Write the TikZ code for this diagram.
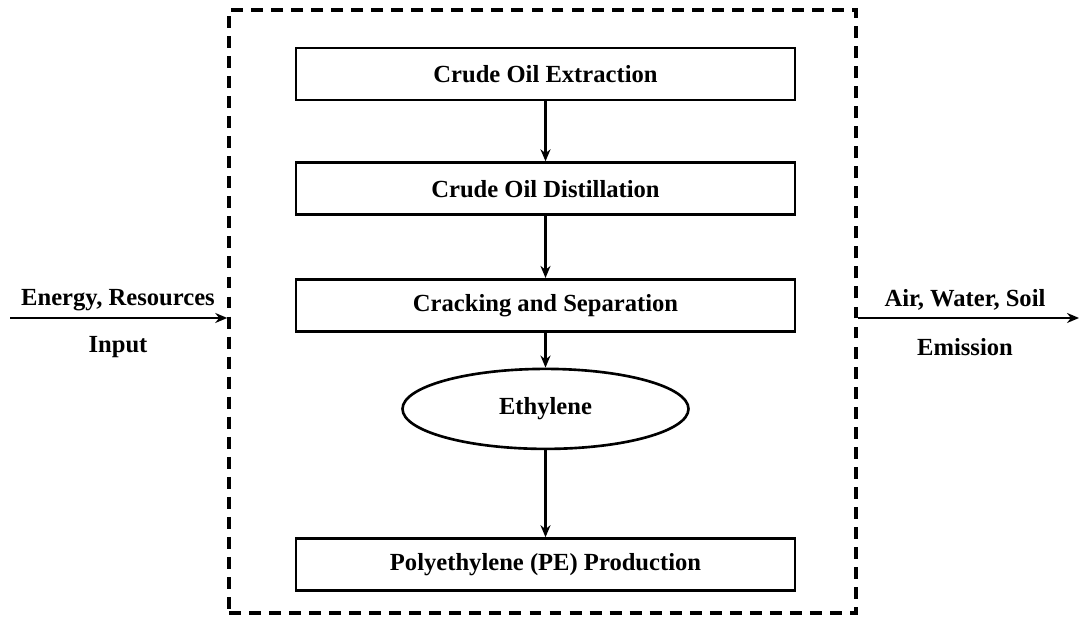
\documentclass[tikz,border=0pt]{standalone}
\usepackage{fontspec}
\setmainfont{Liberation Serif}
\usepackage{tikz}
\usetikzlibrary{arrows.meta,positioning,shapes.geometric}

\begin{document}
\begin{tikzpicture}[
  stage/.style={draw,line width=1.5pt,minimum width=9.98cm,minimum height=1.04cm,
    inner sep=0pt,font=\fontsize{14}{16}\selectfont\bfseries},
  product/.style={draw,ellipse,line width=1.5pt,minimum width=5.72cm,minimum height=1.6cm,
    inner sep=0pt,font=\fontsize{14}{16}\selectfont\bfseries},
  boundary/.style={draw,line width=2pt,dash pattern=on 6.8pt off 4.6pt,
    minimum width=12.54cm,minimum height=12.06cm,inner sep=0pt},
  tag/.style={font=\fontsize{14}{16}\selectfont\bfseries,inner sep=0pt},
  link/.style={-{Stealth[length=2.4mm,width=2mm]},line width=1.5pt}]
\useasboundingbox (0,0) rectangle (21.6,12.54);
\node[boundary] (sys) at (10.85,6.31) {};
\node[stage] (extract) at (10.91,11.06) {Crude Oil Extraction};
\node[stage,below=1.2cm of extract] (distil) {Crude Oil Distillation};
\node[stage,below=1.24cm of distil] (crack) {Cracking and Separation};
\node[product,below=0.7cm of crack] (ethyl) {Ethylene};
\node[stage,below=1.74cm of ethyl] (pe) {Polyethylene (PE) Production};
\draw[link] (extract)--(distil);
\draw[link] (distil)--(crack);
\draw[link] (crack)--(ethyl);
\draw[link] (ethyl)--(pe);
% system inputs and outputs
\coordinate (inflow) at (0.2,6.18);
\coordinate (outflow) at (21.58,6.18);
\draw[link] (inflow)--(inflow-|sys.west);
\draw[link] (outflow-|sys.east)--(outflow);
\node[tag] (inres) at (2.36,6.54) {Energy, Resources};
\node[tag] (inlbl) at (2.36,5.6) {Input};
\node[tag] (outres) at (19.3,6.54) {Air, Water, Soil};
\node[tag] (outlbl) at (19.3,5.6) {Emission};
\end{tikzpicture}
\end{document}
